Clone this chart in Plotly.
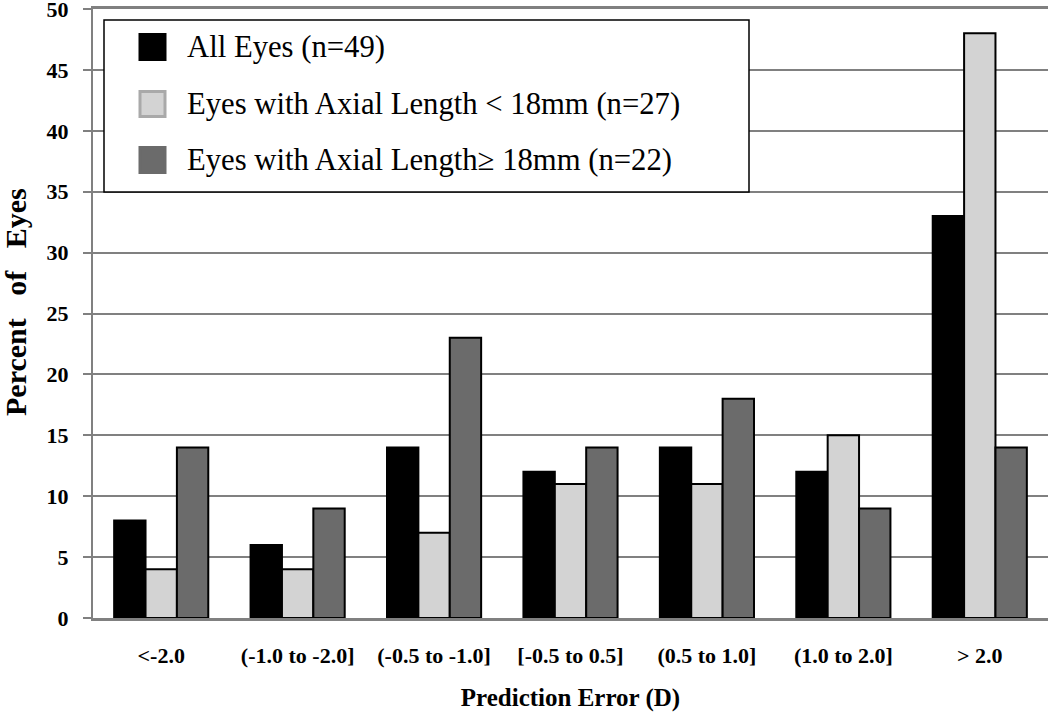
import plotly.graph_objects as go

categories = ["<-2.0", "(-1.0 to -2.0]", "(-0.5 to -1.0]", "[-0.5 to 0.5]",
              "(0.5 to 1.0]", "(1.0 to 2.0]", "> 2.0"]
all_eyes = [8, 6, 14, 12, 14, 12, 33]
short_eyes = [4, 4, 7, 11, 11, 15, 48]
long_eyes = [14, 9, 23, 14, 18, 9, 14]
series_names = ["All Eyes (n=49)",
                "Eyes with Axial Length < 18mm (n=27)",
                "Eyes with Axial Length\u2265 18mm (n=22)"]
series_colors = ["#000000", "#d3d3d3", "#6b6b6b"]
legend_edge = ["#000000", "#a9a9a9", "#6b6b6b"]
y_ticks = [0, 5, 10, 15, 20, 25, 30, 35, 40, 45, 50]
y_max = 50

fig = go.Figure()
for name, vals, col in zip(series_names, [all_eyes, short_eyes, long_eyes], series_colors):
    fig.add_trace(go.Bar(x=categories, y=vals, name=name, marker_color=col,
                         marker_line=dict(color="#000000", width=2), showlegend=False))

serif = "Liberation Serif"
L, R, T, B = 93, 2, 9, 98
sp = "\u00a0\u00a0 "
fig.update_layout(
    width=1050, height=716,
    margin=dict(l=L, r=R, t=T, b=B, autoexpand=False),
    paper_bgcolor="white", plot_bgcolor="white",
    barmode="group", bargap=0.31, bargroupgap=0,
    font=dict(family=serif, color="black"),
    xaxis=dict(
        automargin=False, mirror=True,
        showline=True, linecolor="#808080", linewidth=2.5,
        ticks="", tickfont=dict(family=serif, size=22, color="black", weight="bold"),
        ticklabelstandoff=16,
        title=dict(text="<b>Prediction Error (D)</b>", font=dict(family=serif, size=25), standoff=22),
    ),
    yaxis=dict(
        automargin=False, ticklabeloverflow="allow",
        range=[0, y_max], tickvals=y_ticks, showgrid=True, gridcolor="#808080", gridwidth=2,
        showline=True, linecolor="#808080", linewidth=2, ticks="outside", ticklen=8,
        tickcolor="#808080", tickwidth=2, zeroline=False,
        tickfont=dict(family=serif, size=22, color="black", weight="bold"),
        ticklabelstandoff=10,
    ),
)

W, H = 1050, 716
def px_x(p):
    return (p - L) / (W - L - R)

def px_y(p):
    return (H - B - p) / (H - B - T)

# y-axis title as rotated annotation
annotations = [dict(xref="paper", yref="paper", x=px_x(15), y=px_y(302),
                    xanchor="center", yanchor="middle", showarrow=False, textangle=-90,
                    text="<b>Percent" + sp + "of" + sp + "Eyes</b>",
                    font=dict(family=serif, size=30, color="black"))]

# manual legend (box, swatches, labels)
shapes = [dict(type="rect", xref="paper", yref="paper",
               x0=px_x(104), x1=px_x(749), y0=px_y(192), y1=px_y(20),
               line=dict(color="#000000", width=1.5), fillcolor="white", layer="above")]
rows = [47, 104, 160]
for i, (name, col, edge) in enumerate(zip(series_names, series_colors, legend_edge)):
    cy = rows[i]
    shapes.append(dict(type="rect", xref="paper", yref="paper",
                       x0=px_x(140), x1=px_x(165), y0=px_y(cy + 12.5), y1=px_y(cy - 12.5),
                       line=dict(color=edge, width=3), fillcolor=col, layer="above"))
    annotations.append(dict(xref="paper", yref="paper", x=px_x(185), y=px_y(cy),
                            xanchor="left", yanchor="middle", showarrow=False, text=name,
                            font=dict(family=serif, size=30.7, color="black")))
fig.update_layout(shapes=shapes, annotations=annotations)

fig.write_html("out.html", config={"displayModeBar": False},
               post_script="document.body.style.margin='0';document.body.style.overflow='hidden';")
